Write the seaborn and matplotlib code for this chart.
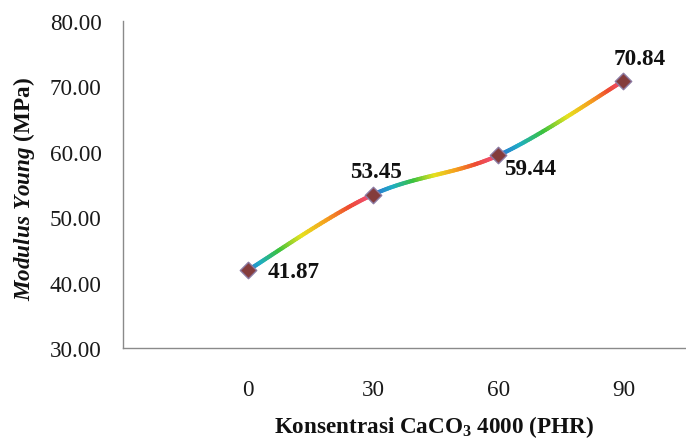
import numpy as np
import pandas as pd
import seaborn as sns
import matplotlib
matplotlib.use("Agg")
import matplotlib.pyplot as plt
from matplotlib.collections import LineCollection
from matplotlib.colors import LinearSegmentedColormap

# Data
konsentrasi = [0, 30, 60, 90]
modulus = [41.87, 53.45, 59.44, 70.84]
value_labels = ["41.87", "53.45", "59.44", "70.84"]
y_ticks = [30, 40, 50, 60, 70, 80]

sns.set_theme(style="white")
plt.rcParams["font.family"] = ["Liberation Serif", "DejaVu Serif"]
plt.rcParams["mathtext.fontset"] = "custom"
plt.rcParams["mathtext.rm"] = "Liberation Serif:bold"
plt.rcParams["mathtext.bf"] = "Liberation Serif:bold"
plt.rcParams["mathtext.it"] = "Liberation Serif:italic:bold"
plt.rcParams["mathtext.bfit"] = "Liberation Serif:italic:bold"

FS = 16.7

df = pd.DataFrame({"konsentrasi": konsentrasi, "modulus": modulus})

fig = plt.figure(figsize=(6.86, 4.39), dpi=100)
ax = fig.add_axes([0.1786, 0.205, 0.8214, 0.745])
ax.set_xlim(-30, 105)
ax.set_ylim(30, 80)

# Smoothed line (cubic Bezier through the points, computed in display space)
fig.canvas.draw()
pts = ax.transData.transform(np.column_stack([df["konsentrasi"], df["modulus"]]))
n = len(pts)
rainbow = LinearSegmentedColormap.from_list(
    "seg_rainbow",
    ["#2f6bd6", "#1eaec4", "#3cc23c", "#e6e21e", "#f5a21e", "#ee4a32", "#ef4f80"],
)
segs, cols = [], []
tt = np.linspace(0, 1, 60)
for i in range(n - 1):
    p0 = pts[i]
    p3 = pts[i + 1]
    pm = pts[i - 1] if i > 0 else pts[i]
    pp = pts[i + 2] if i + 2 < n else pts[i + 1]
    p1 = p0 + (p3 - pm) / 6.0
    p2 = p3 - (pp - p0) / 6.0
    b = ((1 - tt) ** 3)[:, None] * p0 + (3 * (1 - tt) ** 2 * tt)[:, None] * p1 \
        + (3 * (1 - tt) * tt ** 2)[:, None] * p2 + (tt ** 3)[:, None] * p3
    b = ax.transData.inverted().transform(b)
    for j in range(len(b) - 1):
        segs.append(b[j:j + 2])
        cols.append(rainbow((tt[j] + tt[j + 1]) / 2))
lc = LineCollection(segs, colors=cols, linewidths=3.0, capstyle="round", zorder=2)
ax.add_collection(lc)

sns.scatterplot(data=df, x="konsentrasi", y="modulus", marker="D", s=70,
                color="#843c3c", edgecolor="#8c7aa2", linewidth=1.0,
                zorder=3, ax=ax, legend=False)

# Value labels
offsets = [((14, -1), "left"), ((2, 17), "center"), ((4, -9.5), "left"), ((12, 16), "center")]
for xv, yv, lab, (off, ha) in zip(konsentrasi, modulus, value_labels, offsets):
    ax.annotate(lab, (xv, yv), xytext=off, textcoords="offset points",
                ha=ha, va="center", fontsize=FS, fontweight="bold", color="#111111")

ax.set_xticks(konsentrasi)
ax.set_xticklabels([str(v) for v in konsentrasi])
ax.set_yticks(y_ticks)
ax.set_yticklabels([f"{v:.2f}" for v in y_ticks])
ax.tick_params(axis="both", length=0, labelsize=FS, labelcolor="#1a1a1a")
ax.tick_params(axis="y", pad=15)
ax.tick_params(axis="x", pad=22)

for side in ["top", "right"]:
    ax.spines[side].set_visible(False)
for side in ["left", "bottom"]:
    ax.spines[side].set_color("#8a8a8a")
    ax.spines[side].set_linewidth(1.0)

ax.set_xlabel(r"Konsentrasi CaCO$_3$ 4000 (PHR)", fontsize=FS, fontweight="bold", color="#111111")
ax.set_ylabel(r"$\mathit{Modulus\ Young}$ (MPa)", fontsize=FS, fontweight="bold", color="#111111")
ax.xaxis.set_label_coords(0.553, -0.2385)
ax.xaxis.label.set_va("center")
ax.yaxis.set_label_coords(-0.1748, 0.489)
ax.yaxis.label.set_va("center")

fig.savefig("out.png", dpi=100, facecolor="white")
